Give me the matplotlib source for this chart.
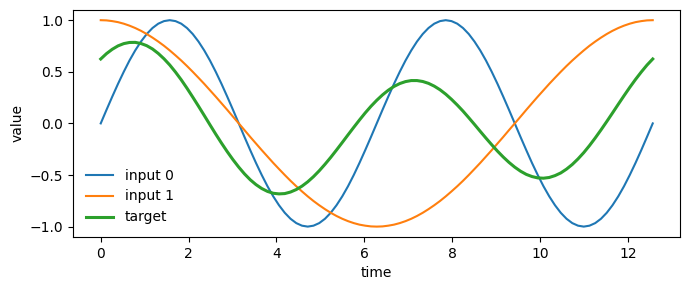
import matplotlib
matplotlib.use("Agg")
import matplotlib.pyplot as plt

# time samples (0 .. 4*pi)
time = [0.0, 0.131, 0.262, 0.393, 0.524, 0.654, 0.785, 0.916, 1.047, 1.178, 1.309, 1.440,
        1.571, 1.702, 1.833, 1.963, 2.094, 2.225, 2.356, 2.487, 2.618, 2.749, 2.880, 3.011,
        3.142, 3.272, 3.403, 3.534, 3.665, 3.796, 3.927, 4.058, 4.189, 4.320, 4.451, 4.581,
        4.712, 4.843, 4.974, 5.105, 5.236, 5.367, 5.498, 5.629, 5.760, 5.890, 6.021, 6.152,
        6.283, 6.414, 6.545, 6.676, 6.807, 6.938, 7.069, 7.199, 7.330, 7.461, 7.592, 7.723,
        7.854, 7.985, 8.116, 8.247, 8.378, 8.508, 8.639, 8.770, 8.901, 9.032, 9.163, 9.294,
        9.425, 9.556, 9.687, 9.817, 9.948, 10.079, 10.210, 10.341, 10.472, 10.603, 10.734, 10.865,
        10.996, 11.126, 11.257, 11.388, 11.519, 11.650, 11.781, 11.912, 12.043, 12.174, 12.305, 12.435,
        12.566]

input0 = [0.0, 0.131, 0.259, 0.383, 0.5, 0.609, 0.707, 0.793, 0.866, 0.924, 0.966, 0.991,
          1.0, 0.991, 0.966, 0.924, 0.866, 0.793, 0.707, 0.609, 0.5, 0.383, 0.259, 0.131,
          0.0, -0.131, -0.259, -0.383, -0.5, -0.609, -0.707, -0.793, -0.866, -0.924, -0.966, -0.991,
          -1.0, -0.991, -0.966, -0.924, -0.866, -0.793, -0.707, -0.609, -0.5, -0.383, -0.259, -0.131,
          0.0, 0.131, 0.259, 0.383, 0.5, 0.609, 0.707, 0.793, 0.866, 0.924, 0.966, 0.991,
          1.0, 0.991, 0.966, 0.924, 0.866, 0.793, 0.707, 0.609, 0.5, 0.383, 0.259, 0.131,
          0.0, -0.131, -0.259, -0.383, -0.5, -0.609, -0.707, -0.793, -0.866, -0.924, -0.966, -0.991,
          -1.0, -0.991, -0.966, -0.924, -0.866, -0.793, -0.707, -0.609, -0.5, -0.383, -0.259, -0.131,
          0.0]

input1 = [1.0, 0.998, 0.991, 0.981, 0.966, 0.947, 0.924, 0.897, 0.866, 0.831, 0.793, 0.752,
          0.707, 0.659, 0.609, 0.556, 0.5, 0.442, 0.383, 0.321, 0.259, 0.195, 0.131, 0.065,
          0.0, -0.065, -0.131, -0.195, -0.259, -0.321, -0.383, -0.442, -0.5, -0.556, -0.609, -0.659,
          -0.707, -0.752, -0.793, -0.831, -0.866, -0.897, -0.924, -0.947, -0.966, -0.981, -0.991, -0.998,
          -1.0, -0.998, -0.991, -0.981, -0.966, -0.947, -0.924, -0.897, -0.866, -0.831, -0.793, -0.752,
          -0.707, -0.659, -0.609, -0.556, -0.5, -0.442, -0.383, -0.321, -0.259, -0.195, -0.131, -0.065,
          0.0, 0.065, 0.131, 0.195, 0.259, 0.321, 0.383, 0.442, 0.5, 0.556, 0.609, 0.659,
          0.707, 0.752, 0.793, 0.831, 0.866, 0.897, 0.924, 0.947, 0.966, 0.981, 0.991, 0.998,
          1.0]

target = [0.624, 0.676, 0.718, 0.751, 0.773, 0.784, 0.785, 0.774, 0.753, 0.721, 0.678, 0.626,
          0.566, 0.497, 0.422, 0.341, 0.255, 0.167, 0.077, -0.014, -0.104, -0.191, -0.274, -0.352,
          -0.424, -0.489, -0.546, -0.593, -0.631, -0.659, -0.677, -0.683, -0.680, -0.665, -0.641, -0.608,
          -0.566, -0.516, -0.459, -0.396, -0.329, -0.258, -0.185, -0.111, -0.038, 0.033, 0.102, 0.166,
          0.224, 0.276, 0.321, 0.358, 0.386, 0.405, 0.415, 0.415, 0.406, 0.388, 0.361, 0.326,
          0.283, 0.233, 0.178, 0.119, 0.055, -0.010, -0.077, -0.143, -0.207, -0.269, -0.326, -0.378,
          -0.424, -0.463, -0.494, -0.515, -0.528, -0.531, -0.524, -0.506, -0.480, -0.443, -0.398, -0.344,
          -0.283, -0.215, -0.141, -0.063, 0.018, 0.101, 0.185, 0.268, 0.349, 0.426, 0.498, 0.565,
          0.624]

fig = plt.figure(figsize=(6.9, 2.9), dpi=100)
ax = fig.add_axes([0.106, 0.183, 0.880, 0.783])

ax.plot(time, input0, label="input 0", lw=1.5)
ax.plot(time, input1, label="input 1", lw=1.5)
ax.plot(time, target, label="target", lw=2.2)

ax.set_xlabel("time")
ax.set_ylabel("value")
ax.legend(loc="lower left", frameon=False)

fig.savefig("out.png", dpi=100)
